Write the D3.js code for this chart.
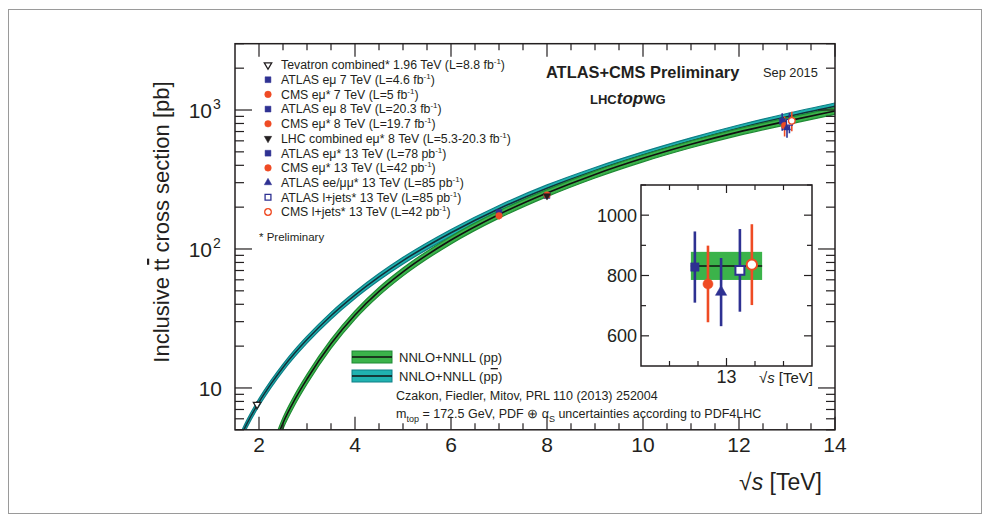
<!DOCTYPE html>
<html><head><meta charset="utf-8">
<script src="https://cdn.jsdelivr.net/npm/d3@7"></script>
<style>
html,body{margin:0;padding:0;background:#fff;}
text{font-family:"Liberation Sans",Arial,Helvetica,sans-serif;fill:#231f20;}
</style></head>
<body><svg id="c" width="990" height="522"></svg>
<script>
// ---------- DATA ----------
const theorySqrtS = [1.5,1.75,2.0,2.25,2.5,2.75,3.0,3.5,4.0,4.5,5.0,6.0,7.0,8.0,9.0,10.0,11.0,12.0,13.0,14.0];
const ppXsec      = [0.35,0.85,1.75,3.3,5.6,8.3,11.6,20.8,33.5,49.5,68.5,116,177.3,252.9,344,449,567,696,831.8,984.5];
const ppRelUnc    = [0.12,0.11,0.10,0.095,0.09,0.085,0.08,0.075,0.07,0.068,0.065,0.062,0.06,0.058,0.057,0.056,0.056,0.056,0.056,0.056];
const ppbarXsec   = [3.63,5.55,7.9,10.7,14.05,17.9,22.3,33.1,46.6,63.0,82.5,131,195,274,366,474,598,739,895,1065];
const ppbarRelUnc = [0.065,0.062,0.06,0.06,0.058,0.058,0.057,0.057,0.056,0.056,0.056,0.055,0.055,0.055,0.055,0.055,0.055,0.055,0.055,0.055];

const measLabels = [
  "Tevatron combined* 1.96 TeV (L=8.8 fb^-1)",
  "ATLAS eμ 7 TeV (L=4.6 fb^-1)",
  "CMS eμ* 7 TeV (L=5 fb^-1)",
  "ATLAS eμ 8 TeV (L=20.3 fb^-1)",
  "CMS eμ* 8 TeV (L=19.7 fb^-1)",
  "LHC combined eμ* 8 TeV (L=5.3-20.3 fb^-1)",
  "ATLAS eμ* 13 TeV (L=78 pb^-1)",
  "CMS eμ* 13 TeV (L=42 pb^-1)",
  "ATLAS ee/μμ* 13 TeV (L=85 pb^-1)",
  "ATLAS l+jets* 13 TeV (L=85 pb^-1)",
  "CMS l+jets* 13 TeV (L=42 pb^-1)"
];
const measSqrtS   = [1.96,7,7,8,8,8,12.9,12.95,13.0,13.05,13.1];
const measInsetX  = [null,null,null,null,null,null,12.889,12.935,12.981,13.047,13.089];
const measXsec    = [7.60,182.9,173.6,242.4,244.9,241.5,828,772,745,817,836];
const measErr     = [0.41,7.1,10.5,10.3,9.6,8.5,118,127,113,137,134];
const measSymbol  = ["tridown","square","circle","square","circle","tridown","square","circle","triup","square","circle"];
const measFilled  = [false,true,true,true,true,true,true,true,true,false,false];
const measColor   = ["#231f20","#2e3192","#ef4b24","#2e3192","#ef4b24","#231f20","#2e3192","#ef4b24","#2e3192","#2e3192","#ef4b24"];

const xTicksMajor = [2,4,6,8,10,12,14];
const yTickLabels = [{v:10,t:"10",s:""},{v:100,t:"10",s:"2"},{v:1000,t:"10",s:"3"}];
const insetYTicks = [600,800,1000];
const insetXLabel = "13";

// ---------- LAYOUT ----------
const svg = d3.select("#c");
svg.append("rect").attr("x",8.5).attr("y",9.5).attr("width",973).attr("height",504)
  .attr("fill","none").attr("stroke","#9a9a9a").attr("stroke-width",1);

const x = d3.scaleLinear().domain([1.5,14]).range([235,835]);
const y = d3.scaleLog().domain([5,3000]).range([429.8,43.7]);
const X0=x.range()[0], X1=x.range()[1], Y0=y.range()[0], Y1=y.range()[1];

const defs = svg.append("defs");
defs.append("clipPath").attr("id","clipMain").append("rect")
  .attr("x",X0).attr("y",Y1).attr("width",X1-X0).attr("height",Y0-Y1);

const plot = svg.append("g").attr("clip-path","url(#clipMain)");

function band(vals, rel, fill, edge, line){
  const pts = theorySqrtS.map((s,i)=>({s, v:vals[i], lo:vals[i]*(1-rel[i]), hi:vals[i]*(1+rel[i])}));
  const area = d3.area().x(d=>x(d.s)).y0(d=>y(d.lo)).y1(d=>y(d.hi)).curve(d3.curveMonotoneX);
  plot.append("path").attr("d",area(pts)).attr("fill",fill).attr("stroke",edge).attr("stroke-width",1.2);
  const ln = d3.line().x(d=>x(d.s)).y(d=>y(d.v)).curve(d3.curveMonotoneX);
  plot.append("path").attr("d",ln(pts)).attr("fill","none").attr("stroke",line).attr("stroke-width",1.6);
}
const GREEN="#3bb34a", GREENEDGE="#1f8a34", TEAL="#20b2b0", TEALEDGE="#0e7f86";
band(ppbarXsec, ppbarRelUnc, TEAL, TEALEDGE, "#12303a");
band(ppXsec, ppRelUnc, GREEN, GREENEDGE, "#111");

// markers
function marker(g, sym, cx, cy, size, color, filled, sw){
  let type = d3.symbolSquare, rot=0;
  if(sym==="circle") type=d3.symbolCircle;
  if(sym==="triup") type=d3.symbolTriangle;
  if(sym==="tridown"){type=d3.symbolTriangle; rot=180;}
  g.append("path").attr("d", d3.symbol().type(type).size(size)())
    .attr("transform",`translate(${cx},${cy}) rotate(${rot})`)
    .attr("fill", filled?color:"#fff").attr("stroke",color).attr("stroke-width",filled?0.5:(sw||1.3));
}
function mSize(sym, base){ return sym.startsWith("tri") ? base*0.7 : base; }
const pts = svg.append("g");
measXsec.forEach((v,i)=>{
  const cx=x(measSqrtS[i]);
  pts.append("line").attr("x1",cx).attr("x2",cx).attr("y1",y(v-measErr[i])).attr("y2",y(v+measErr[i]))
    .attr("stroke",measColor[i]).attr("stroke-width",1.6);
});
measXsec.forEach((v,i)=>{
  marker(pts, measSymbol[i], x(measSqrtS[i]), y(v), mSize(measSymbol[i],34), measColor[i], measFilled[i]);
});

// frame & ticks
const ax = svg.append("g").attr("stroke","#231f20").attr("fill","none");
ax.append("rect").attr("x",X0).attr("y",Y1).attr("width",X1-X0).attr("height",Y0-Y1).attr("stroke-width",1.5);
d3.range(2,14.01,0.5).forEach(s=>{
  const major = xTicksMajor.includes(s);
  const L = major?13:6.5;
  ax.append("line").attr("x1",x(s)).attr("x2",x(s)).attr("y1",Y0).attr("y2",Y0-L).attr("stroke-width",1.2);
  ax.append("line").attr("x1",x(s)).attr("x2",x(s)).attr("y1",Y1).attr("y2",Y1+L).attr("stroke-width",1.2);
});
const yt=[];
[1,10,100,1000].forEach(d=>{for(let k=1;k<10;k++){const v=d*k; if(v>=5&&v<=3000) yt.push(v);}});
yt.forEach(v=>{
  const major = [10,100,1000].includes(v);
  const L = major?17:9;
  ax.append("line").attr("x1",X0).attr("x2",X0+L).attr("y1",y(v)).attr("y2",y(v)).attr("stroke-width",1.2);
  ax.append("line").attr("x1",X1).attr("x2",X1-L).attr("y1",y(v)).attr("y2",y(v)).attr("stroke-width",1.2);
});

// tick labels
xTicksMajor.forEach(s=>{
  svg.append("text").attr("x",x(s)).attr("y",452).attr("text-anchor","middle")
    .attr("font-size",21).text(s);
});
yTickLabels.forEach(d=>{
  const t = svg.append("text").attr("x",d.s?212:222).attr("y",y(d.v)+8).attr("text-anchor","end").attr("font-size",21);
  t.append("tspan").text(d.t);
  if(d.s){ svg.append("text").attr("x",213).attr("y",y(d.v)-1).attr("font-size",14).text(d.s); }
});

// axis titles
const yl = svg.append("text").attr("transform","translate(169,222) rotate(-90)").attr("text-anchor","middle").attr("font-size",22);
yl.append("tspan").text("Inclusive t");
yl.append("tspan").attr("text-decoration","overline").text("t");
yl.append("tspan").text(" cross section [pb]");
const xl = svg.append("text").attr("x",822).attr("y",490).attr("text-anchor","end").attr("font-size",23);
xl.append("tspan").text("√");
xl.append("tspan").attr("font-style","italic").text("s");
xl.append("tspan").text(" [TeV]");

// legend
const leg = svg.append("g");
measLabels.forEach((lab,i)=>{
  const yy = 65 + i*14.7;
  marker(leg, measSymbol[i], 268, yy, mSize(measSymbol[i],34), measColor[i], measFilled[i]);
  const t = leg.append("text").attr("x",281).attr("y",yy+4.3).attr("font-size",12.3);
  const parts = lab.split("^-1");
  t.append("tspan").text(parts[0]);
  t.append("tspan").attr("dy",-5).attr("font-size",8).text("-1");
  t.append("tspan").attr("dy",5).text(parts[1]);
});
svg.append("text").attr("x",259).attr("y",241).attr("font-size",11.5).text("* Preliminary");

// titles top right
svg.append("text").attr("x",546).attr("y",78).attr("font-size",16.4).attr("font-weight","bold").text("ATLAS+CMS Preliminary");
svg.append("text").attr("x",763).attr("y",77).attr("font-size",12.8).text("Sep 2015");
const lhc = svg.append("text").attr("x",590).attr("y",104).attr("font-weight","bold");
lhc.append("tspan").attr("font-size",13).text("LHC");
lhc.append("tspan").attr("font-size",17).attr("font-style","italic").text("top");
lhc.append("tspan").attr("font-size",13).text("WG");

// band legend
function swatch(y0, fill, edge){
  svg.append("rect").attr("x",352).attr("y",y0).attr("width",40).attr("height",12)
    .attr("fill",fill).attr("stroke",edge).attr("stroke-width",1);
  svg.append("line").attr("x1",352).attr("x2",392).attr("y1",y0+6).attr("y2",y0+6).attr("stroke","#111").attr("stroke-width",1.4);
}
swatch(351, GREEN, GREENEDGE);
swatch(370, TEAL, TEALEDGE);
svg.append("text").attr("x",399).attr("y",362).attr("font-size",13).text("NNLO+NNLL (pp)");
const pb = svg.append("text").attr("x",399).attr("y",381).attr("font-size",13);
pb.append("tspan").text("NNLO+NNLL (p");
pb.append("tspan").attr("text-decoration","overline").text("p");
pb.append("tspan").text(")");
svg.append("text").attr("x",396).attr("y",400).attr("font-size",12.5).text("Czakon, Fiedler, Mitov, PRL 110 (2013) 252004");
const mt = svg.append("text").attr("x",396).attr("y",418).attr("font-size",12.5);
mt.append("tspan").text("m");
mt.append("tspan").attr("dy",4).attr("font-size",9).text("top");
mt.append("tspan").attr("dy",-4).text(" = 172.5 GeV, PDF ⊕ α");
mt.append("tspan").attr("dy",4).attr("font-size",9).text("S");
mt.append("tspan").attr("dy",-4).text(" uncertainties according to PDF4LHC");

// ---------- INSET ----------
const xi = d3.scaleLinear().domain([12.7,13.3]).range([641,812]);
const yi = d3.scaleLinear().domain([500,1100]).range([366,185]);
const ins = svg.append("g");
ins.append("rect").attr("x",641).attr("y",185).attr("width",171).attr("height",181).attr("fill","#fff");
const i13 = theorySqrtS.indexOf(13);
const bandHalf = 0.125;
ins.append("rect").attr("x",xi(13-bandHalf)).attr("width",xi(13+bandHalf)-xi(13-bandHalf))
  .attr("y",yi(ppXsec[i13]*(1+ppRelUnc[i13]))).attr("height",yi(ppXsec[i13]*(1-ppRelUnc[i13]))-yi(ppXsec[i13]*(1+ppRelUnc[i13])))
  .attr("fill",GREEN);
ins.append("line").attr("x1",xi(13-bandHalf)).attr("x2",xi(13+bandHalf)).attr("y1",yi(ppXsec[i13])).attr("y2",yi(ppXsec[i13]))
  .attr("stroke","#111").attr("stroke-width",1.5);
measXsec.forEach((v,i)=>{
  if(measInsetX[i]==null) return;
  const cx = xi(measInsetX[i]);
  ins.append("line").attr("x1",cx).attr("x2",cx).attr("y1",yi(v-measErr[i])).attr("y2",yi(v+measErr[i]))
    .attr("stroke",measColor[i]).attr("stroke-width",2.6);
});
measXsec.forEach((v,i)=>{
  if(measInsetX[i]==null) return;
  const filled = measFilled[i];
  const size = measSymbol[i]==="triup"?55:(measSymbol[i]==="square"?(filled?70:80):(filled?80:85));
  marker(ins, measSymbol[i], xi(measInsetX[i]), yi(v), size, measColor[i], filled, 2);
});
const iax = ins.append("g").attr("stroke","#231f20").attr("fill","none");
iax.append("rect").attr("x",641).attr("y",185).attr("width",171).attr("height",181).attr("stroke-width",1.5);
d3.range(600,1101,100).forEach(v=>{
  const L = insetYTicks.includes(v)?8:5;
  iax.append("line").attr("x1",641).attr("x2",641+L).attr("y1",yi(v)).attr("y2",yi(v)).attr("stroke-width",1.2);
  iax.append("line").attr("x1",812).attr("x2",812-L).attr("y1",yi(v)).attr("y2",yi(v)).attr("stroke-width",1.2);
});
[12.8,12.9,13.0,13.1,13.2].forEach(s=>{
  const L = s===13?8:5;
  iax.append("line").attr("x1",xi(s)).attr("x2",xi(s)).attr("y1",366).attr("y2",366-L).attr("stroke-width",1.2);
  iax.append("line").attr("x1",xi(s)).attr("x2",xi(s)).attr("y1",185).attr("y2",185+L).attr("stroke-width",1.2);
});
insetYTicks.forEach(v=>{
  svg.append("text").attr("x",637).attr("y",yi(v)+6.5).attr("text-anchor","end").attr("font-size",18).text(v);
});
svg.append("text").attr("x",xi(13)).attr("y",383).attr("text-anchor","middle").attr("font-size",18).text(insetXLabel);
const ixl = svg.append("text").attr("x",813).attr("y",383).attr("text-anchor","end").attr("font-size",15);
ixl.append("tspan").text("√");
ixl.append("tspan").attr("font-style","italic").text("s");
ixl.append("tspan").text(" [TeV]");
</script></body></html>
